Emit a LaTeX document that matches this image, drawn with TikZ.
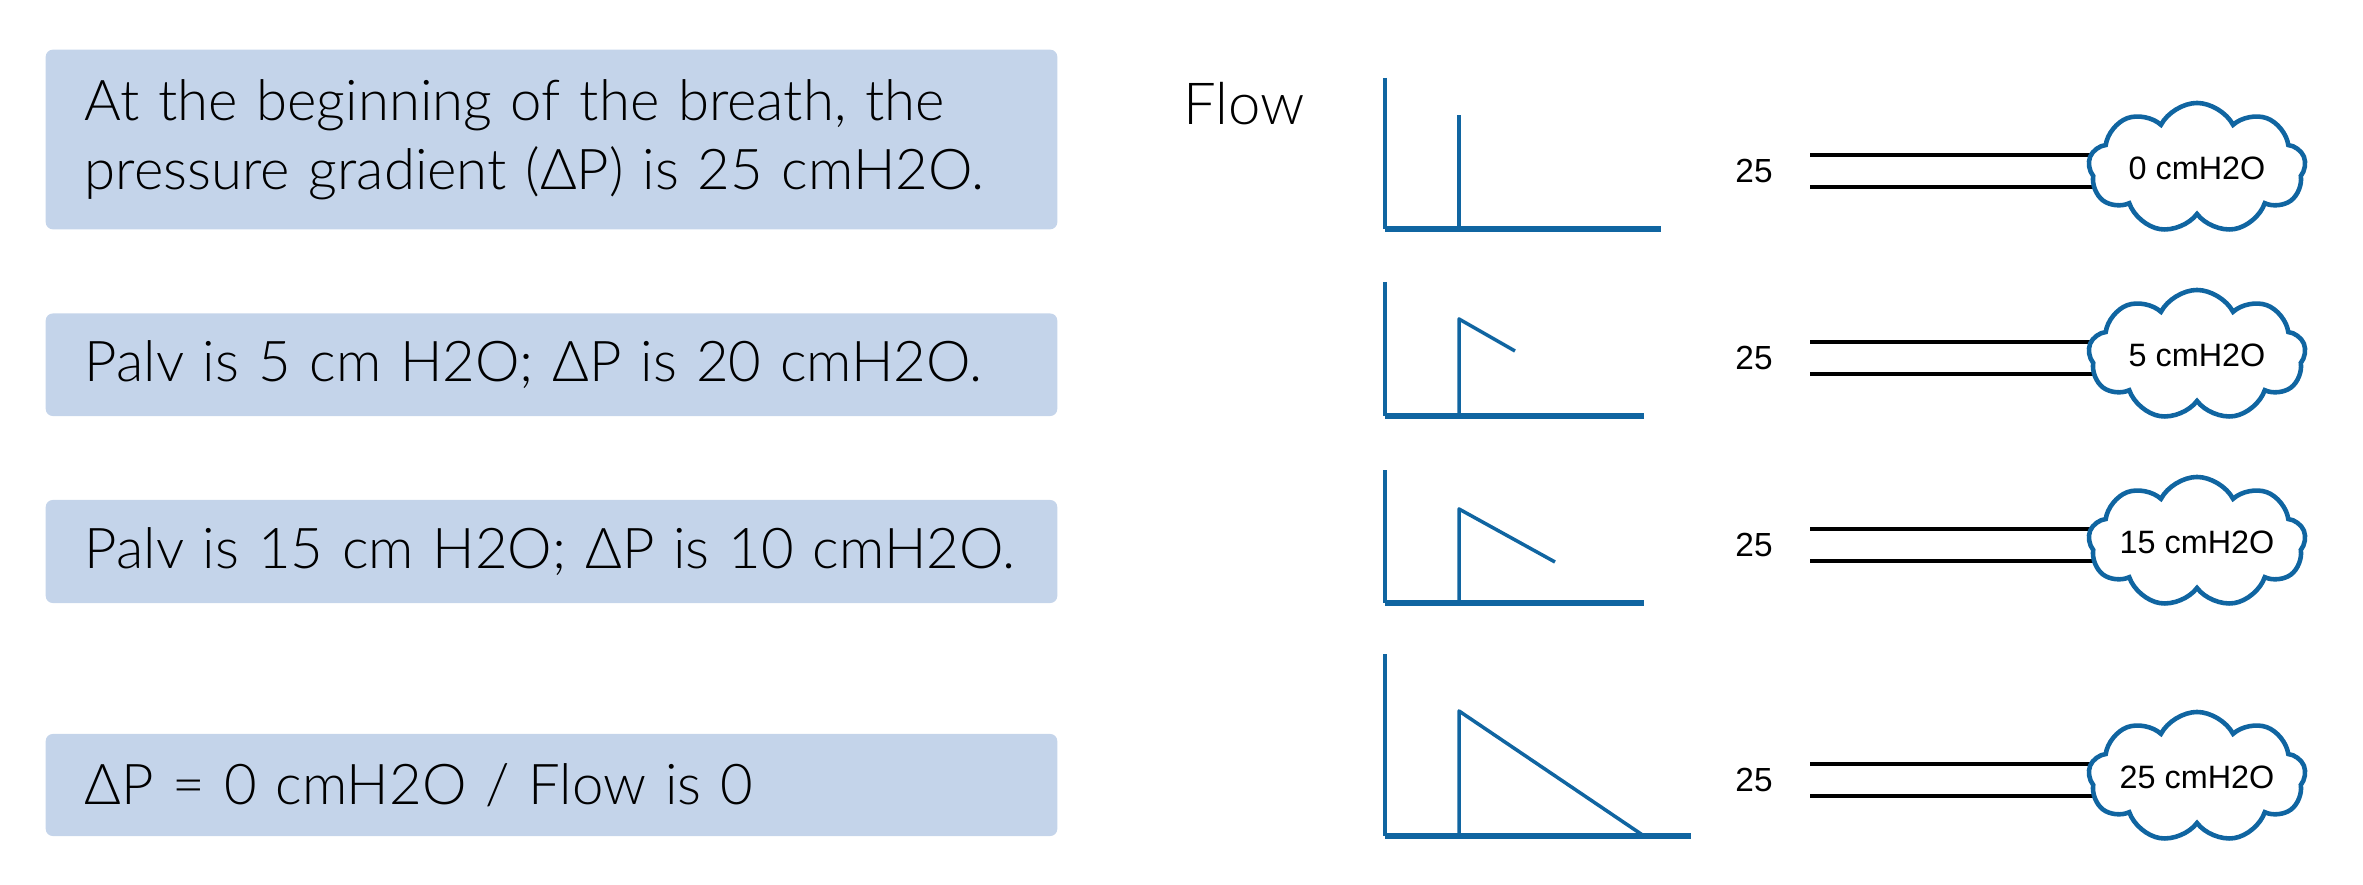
\documentclass[tikz,border=0pt]{standalone}
\usepackage{fontspec}
\setmainfont{Lato}[UprightFont=* Light]
\newfontfamily\labelfont{Liberation Sans}
\usepackage{xcolor}
\usetikzlibrary{shapes.symbols}
\usetikzlibrary{backgrounds}

\definecolor{boxblue}{RGB}{196,212,234}
\definecolor{flowblue}{RGB}{16,101,161}

\tikzset{
msgbox/.style={fill=boxblue, rounded corners=2pt, anchor=west, inner xsep=0.39cm, inner ysep=0pt,
  text width=9.33cm, align=left, font=\fontsize{16}{19.6}\selectfont},
lung/.style={cloud, cloud puffs=9, cloud puff arc=125, aspect=1.75, draw=flowblue, line width=1.3pt,
  fill=white, inner sep=0pt, minimum width=2.17cm, minimum height=1.3cm,
  font=\labelfont\fontsize{9.2}{10}\selectfont},
tube/.style={line width=1.2pt, black},
axis/.style={flowblue, line width=0.9pt},
}

\begin{document}
\begin{tikzpicture}[x=0.01cm, y=-0.01cm]
\useasboundingbox (0,0) rectangle (2363,885);

\node[msgbox, minimum height=1.795cm] (msg1) at (45,139.5)
  {At the beginning of the breath, the\\pressure gradient (ΔP) is 25 cmH2O.};
\node[msgbox, minimum height=1.025cm] (msg2) at (45,364.75) {Palv is 5 cm H2O; ΔP is 20 cmH2O.};
\node[msgbox, minimum height=1.03cm] (msg3) at (45,551.5) {Palv is 15 cm H2O; ΔP is 10 cmH2O.};
\node[msgbox, minimum height=1.02cm] (msg4) at (45,785) {ΔP = 0 cmH2O / Flow is 0};

\node[anchor=base west, inner sep=0pt, font=\fontsize{16.5}{19.6}\selectfont] (flow) at (1183,125) {Flow};

\foreach \n/\yb/\yt/\yc/\xd/\yd/\xe/\yp/\pa in {
  1/229/78/115/1459/115/1661/171/0,
  2/416/282/319/1515/351/1644/358/5,
  3/603/470/509/1555/562/1644/545/15,
  4/836/654/711/1644/836/1691/780/25}
{
% flow curve
\draw[axis] (1385,\yt) -- (1385,\yb);
\draw[axis, line width=1.6pt] (1385,\yb) -- (\xe,\yb);
\draw[axis, line width=1pt, line join=round] (1459,\yb) -- (1459,\yc) -- (\xd,\yd);

% airway and alveolus
\node[lung] (alv\n) at (2197,\yp-3) {\makebox[1.2cm]{\pa{} cmH2O}};
\node[font=\labelfont\fontsize{9.5}{10}\selectfont] (src\n) at (1754,\yp) {25};
\coordinate (ta\n) at (1810,\yp-16);
\coordinate (tb\n) at (1810,\yp+16);
\begin{scope}[on background layer]
\draw[tube] (ta\n) -- (ta\n -| alv\n.center);
\draw[tube] (tb\n) -- (tb\n -| alv\n.center);
\end{scope}
}

\end{tikzpicture}
\end{document}
